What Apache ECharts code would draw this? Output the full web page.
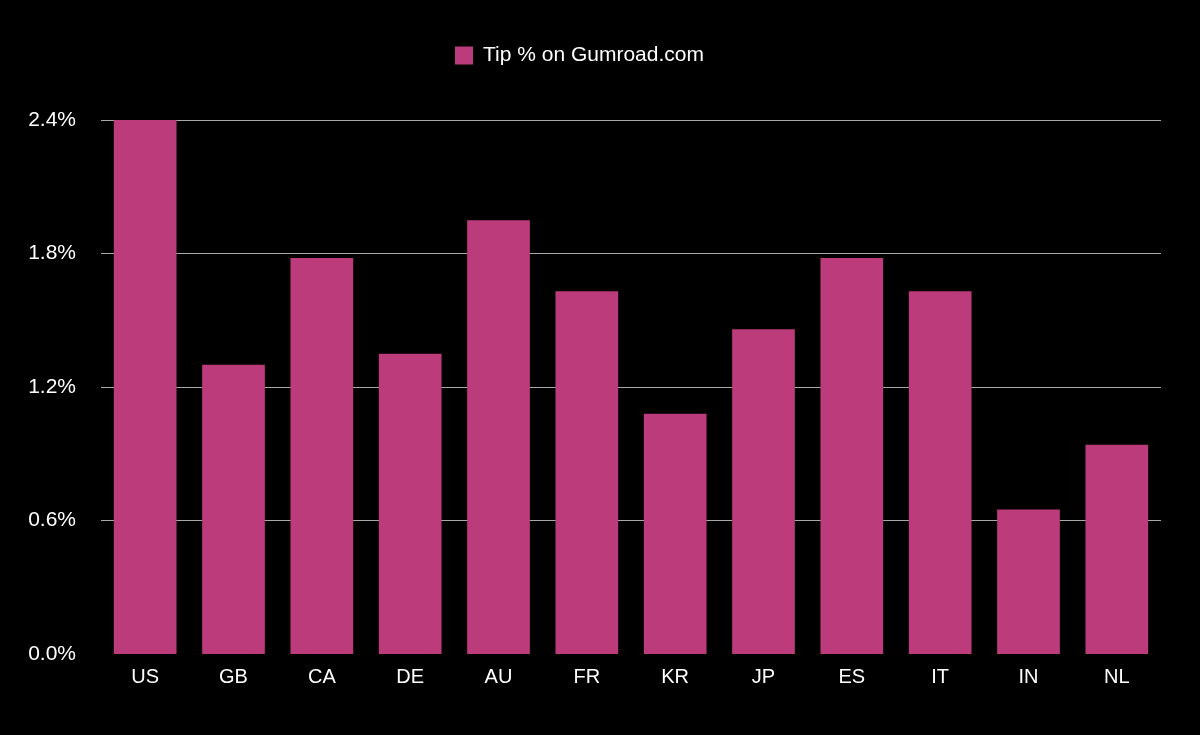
<!DOCTYPE html>
<html><head><meta charset="utf-8">
<script src="https://cdn.jsdelivr.net/npm/echarts@6/dist/echarts.min.js"></script>
<style>html,body{margin:0;padding:0;background:#000;}#c{width:1200px;height:735px;}</style>
</head><body><div id="c"></div>
<script>
const categories = ['US','GB','CA','DE','AU','FR','KR','JP','ES','IT','IN','NL'];
const tipPct = [2.4,1.3,1.78,1.35,1.95,1.63,1.08,1.46,1.78,1.63,0.65,0.94];
const yTicks = [0,0.6,1.2,1.8,2.4];
const seriesName = 'Tip % on Gumroad.com';
const font = 'Liberation Sans, Arial, Helvetica, sans-serif';
const chart = echarts.init(document.getElementById('c'));
chart.setOption({
  backgroundColor:'#000',
  animation:false,
  legend:{
    data:[seriesName], left:450, top:40, itemWidth:18, itemHeight:18, itemGap:10,
    icon:'rect',
    textStyle:{color:'#fff', fontSize:21, fontFamily:font, padding:[0,0,0,5]}
  },
  grid:{left:101, right:39, top:120, bottom:81, containLabel:false},
  xAxis:{
    type:'category', data:categories,
    axisLine:{show:false}, axisTick:{show:false},
    axisLabel:{color:'#fff', fontSize:20, fontFamily:font, margin:13}
  },
  yAxis:{
    type:'value', min:yTicks[0], max:yTicks[yTicks.length-1], interval:0.6,
    axisLine:{show:false}, axisTick:{show:false},
    splitLine:{showMinLine:false, lineStyle:{color:'#a8a8a8', width:1}},
    axisLabel:{color:'#fff', fontSize:21, fontFamily:font, margin:25,
      formatter:v=>v.toFixed(1)+'%'}
  },
  series:[{
    name:seriesName, type:'bar', data:tipPct, barCategoryGap:'29%',
    itemStyle:{color:'#BC3B7B'}
  }]
});
</script></body></html>
